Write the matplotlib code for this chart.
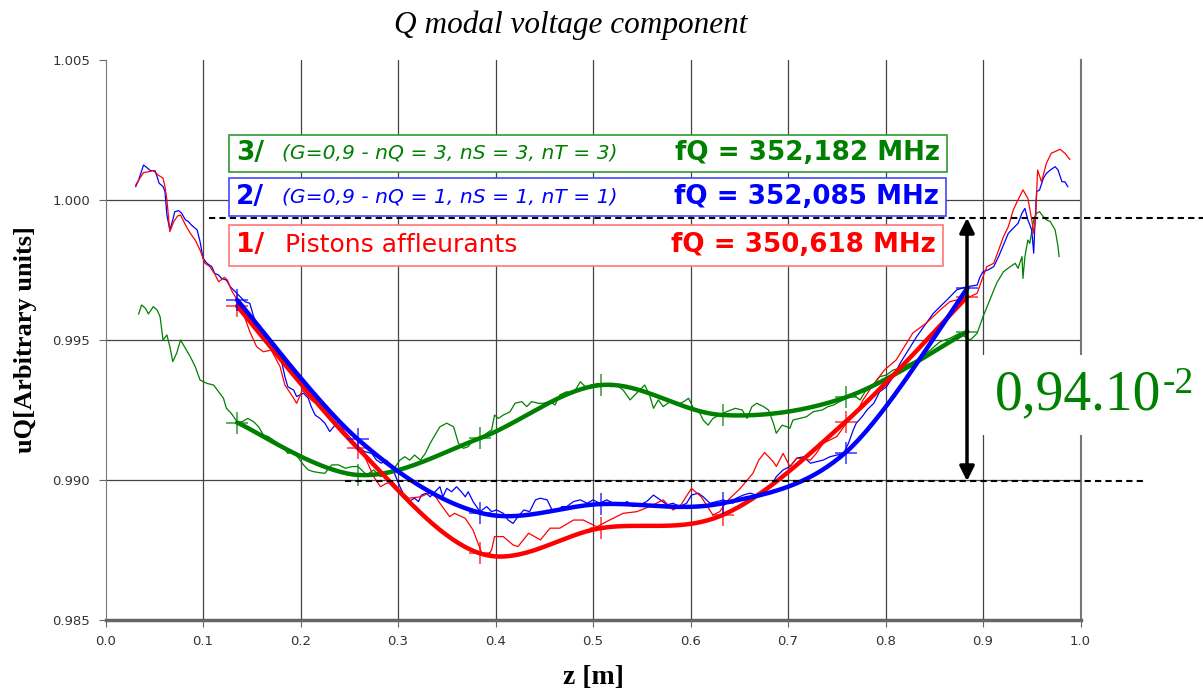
import numpy as np
import matplotlib
matplotlib.use("Agg")
import matplotlib.pyplot as plt
from matplotlib.patches import Rectangle

# measured uQ(z), one thin trace per configuration
red_meas = [
    (0.031, 1.00054), (0.039, 1.00098), (0.044, 1.00101), (0.049, 1.00105), (0.054, 1.00089),
    (0.059, 1.00078), (0.061, 1.00048), (0.063, 1.00000), (0.066, 0.99887), (0.070, 0.99923),
    (0.074, 0.99943), (0.077, 0.99946), (0.082, 0.99911), (0.087, 0.99881), (0.092, 0.99857),
    (0.097, 0.99821), (0.102, 0.99774), (0.107, 0.99762), (0.112, 0.99736), (0.116, 0.99708),
    (0.122, 0.99724), (0.125, 0.99714), (0.129, 0.99679), (0.135, 0.99643), (0.140, 0.99607),
    (0.148, 0.99530), (0.155, 0.99476), (0.162, 0.99458), (0.170, 0.99464), (0.179, 0.99405),
    (0.184, 0.99339), (0.193, 0.99292), (0.196, 0.99274), (0.202, 0.99321), (0.211, 0.99286),
    (0.220, 0.99262), (0.234, 0.99208), (0.247, 0.99167), (0.259, 0.99119), (0.266, 0.99083),
    (0.275, 0.99012), (0.282, 0.98976), (0.287, 0.98986), (0.294, 0.98996), (0.300, 0.98970),
    (0.311, 0.98935), (0.323, 0.98940), (0.335, 0.98958), (0.343, 0.98917), (0.353, 0.98869),
    (0.358, 0.98881), (0.369, 0.98863), (0.377, 0.98821), (0.386, 0.98738), (0.391, 0.98726),
    (0.396, 0.98750), (0.399, 0.98798), (0.408, 0.98798), (0.418, 0.98768), (0.423, 0.98762),
    (0.434, 0.98810), (0.446, 0.98786), (0.456, 0.98828), (0.466, 0.98828), (0.480, 0.98857),
    (0.490, 0.98857), (0.504, 0.98833), (0.517, 0.98857), (0.531, 0.98881), (0.545, 0.98887),
    (0.558, 0.98905), (0.572, 0.98929), (0.582, 0.98893), (0.589, 0.98905), (0.601, 0.98970),
    (0.611, 0.98940), (0.623, 0.98875), (0.630, 0.98887), (0.637, 0.98923), (0.651, 0.98970),
    (0.664, 0.99024), (0.670, 0.99071), (0.676, 0.99098), (0.685, 0.99065), (0.688, 0.99048),
    (0.695, 0.99095), (0.702, 0.99048), (0.709, 0.99078), (0.723, 0.99071), (0.729, 0.99095),
    (0.736, 0.99131), (0.750, 0.99155), (0.760, 0.99203), (0.770, 0.99238), (0.777, 0.99286),
    (0.787, 0.99339), (0.799, 0.99393), (0.811, 0.99429), (0.828, 0.99525), (0.842, 0.99561),
    (0.856, 0.99607), (0.866, 0.99637), (0.887, 0.99655), (0.894, 0.99667), (0.900, 0.99726),
    (0.904, 0.99762), (0.911, 0.99774), (0.916, 0.99821), (0.921, 0.99869), (0.926, 0.99905),
    (0.931, 0.99964), (0.935, 0.99994), (0.941, 1.00036), (0.946, 1.00006), (0.950, 0.99929),
    (0.952, 0.99881), (0.954, 0.99940), (0.956, 1.00107), (0.960, 1.00065), (0.965, 1.00131),
    (0.970, 1.00167), (0.979, 1.00181), (0.984, 1.00167), (0.989, 1.00145),
]

blue_meas = [
    (0.031, 1.00048), (0.034, 1.00071), (0.039, 1.00125), (0.042, 1.00117), (0.046, 1.00105),
    (0.051, 1.00104), (0.055, 1.00060), (0.059, 1.00048), (0.061, 1.00030), (0.063, 0.99946),
    (0.066, 0.99893), (0.069, 0.99929), (0.071, 0.99958), (0.075, 0.99962), (0.078, 0.99953),
    (0.082, 0.99929), (0.085, 0.99923), (0.088, 0.99911), (0.094, 0.99893), (0.097, 0.99851),
    (0.100, 0.99792), (0.104, 0.99774), (0.109, 0.99762), (0.112, 0.99738), (0.116, 0.99732),
    (0.119, 0.99720), (0.124, 0.99714), (0.128, 0.99690), (0.133, 0.99673), (0.138, 0.99655),
    (0.143, 0.99637), (0.148, 0.99631), (0.152, 0.99583), (0.158, 0.99536), (0.165, 0.99500),
    (0.172, 0.99482), (0.177, 0.99453), (0.181, 0.99417), (0.184, 0.99369), (0.187, 0.99333),
    (0.193, 0.99321), (0.196, 0.99298), (0.203, 0.99310), (0.208, 0.99292), (0.211, 0.99262),
    (0.215, 0.99232), (0.220, 0.99220), (0.225, 0.99203), (0.230, 0.99173), (0.234, 0.99190),
    (0.239, 0.99208), (0.244, 0.99179), (0.251, 0.99143), (0.256, 0.99125), (0.259, 0.99119),
    (0.266, 0.99101), (0.273, 0.99095), (0.278, 0.99071), (0.283, 0.99060), (0.288, 0.99071),
    (0.294, 0.99048), (0.297, 0.99018), (0.302, 0.98976), (0.307, 0.98940), (0.311, 0.98923),
    (0.314, 0.98929), (0.317, 0.98935), (0.321, 0.98923), (0.324, 0.98946), (0.329, 0.98953),
    (0.333, 0.98940), (0.338, 0.98958), (0.343, 0.98976), (0.346, 0.98940), (0.350, 0.98970),
    (0.355, 0.98958), (0.360, 0.98976), (0.365, 0.98958), (0.369, 0.98940), (0.372, 0.98958),
    (0.377, 0.98923), (0.384, 0.98887), (0.391, 0.98905), (0.396, 0.98887), (0.401, 0.98893),
    (0.408, 0.98881), (0.413, 0.98857), (0.418, 0.98845), (0.423, 0.98869), (0.429, 0.98893),
    (0.435, 0.98887), (0.441, 0.98929), (0.446, 0.98935), (0.453, 0.98929), (0.458, 0.98893),
    (0.463, 0.98887), (0.468, 0.98905), (0.473, 0.98905), (0.480, 0.98923), (0.487, 0.98929),
    (0.494, 0.98917), (0.500, 0.98929), (0.507, 0.98917), (0.514, 0.98929), (0.521, 0.98917),
    (0.528, 0.98911), (0.535, 0.98923), (0.541, 0.98905), (0.548, 0.98911), (0.555, 0.98923),
    (0.562, 0.98946), (0.569, 0.98929), (0.576, 0.98911), (0.582, 0.98917), (0.589, 0.98905),
    (0.596, 0.98917), (0.601, 0.98946), (0.608, 0.98953), (0.613, 0.98940), (0.620, 0.98917),
    (0.627, 0.98923), (0.634, 0.98929), (0.640, 0.98917), (0.647, 0.98935), (0.654, 0.98946),
    (0.661, 0.98953), (0.668, 0.98946), (0.675, 0.98964), (0.682, 0.98976), (0.688, 0.99012),
    (0.695, 0.99036), (0.702, 0.99048), (0.709, 0.99078), (0.716, 0.99083), (0.723, 0.99060),
    (0.729, 0.99065), (0.736, 0.99071), (0.743, 0.99083), (0.750, 0.99089), (0.757, 0.99095),
    (0.762, 0.99131), (0.767, 0.99179), (0.770, 0.99203), (0.776, 0.99226), (0.781, 0.99250),
    (0.788, 0.99274), (0.794, 0.99315), (0.801, 0.99333), (0.808, 0.99369), (0.815, 0.99417),
    (0.832, 0.99512), (0.849, 0.99595), (0.863, 0.99643), (0.873, 0.99679), (0.883, 0.99690),
    (0.894, 0.99696), (0.897, 0.99726), (0.900, 0.99744), (0.905, 0.99750), (0.911, 0.99762),
    (0.916, 0.99798), (0.921, 0.99839), (0.926, 0.99881), (0.931, 0.99899), (0.936, 0.99917),
    (0.940, 0.99953), (0.943, 0.99970), (0.946, 0.99929), (0.950, 0.99893), (0.952, 0.99810),
    (0.953, 0.99893), (0.955, 1.00030), (0.958, 1.00036), (0.962, 1.00078), (0.965, 1.00095),
    (0.969, 1.00107), (0.974, 1.00119), (0.977, 1.00107), (0.981, 1.00065), (0.984, 1.00065),
    (0.987, 1.00048),
]

green_meas = [
    (0.034, 0.99593), (0.037, 0.99625), (0.041, 0.99613), (0.044, 0.99593), (0.049, 0.99619),
    (0.053, 0.99607), (0.056, 0.99583), (0.059, 0.99500), (0.063, 0.99518), (0.066, 0.99476),
    (0.069, 0.99423), (0.073, 0.99453), (0.077, 0.99500), (0.082, 0.99470), (0.087, 0.99440),
    (0.092, 0.99405), (0.097, 0.99357), (0.104, 0.99345), (0.111, 0.99339), (0.116, 0.99315),
    (0.121, 0.99292), (0.124, 0.99256), (0.129, 0.99238), (0.135, 0.99208), (0.140, 0.99208),
    (0.146, 0.99220), (0.152, 0.99208), (0.157, 0.99190), (0.162, 0.99161), (0.167, 0.99155),
    (0.172, 0.99143), (0.177, 0.99131), (0.182, 0.99119), (0.187, 0.99095), (0.193, 0.99101),
    (0.198, 0.99078), (0.203, 0.99054), (0.208, 0.99036), (0.213, 0.99030), (0.220, 0.99026),
    (0.225, 0.99024), (0.232, 0.99054), (0.239, 0.99054), (0.246, 0.99042), (0.253, 0.99048),
    (0.259, 0.99048), (0.268, 0.99018), (0.275, 0.99036), (0.282, 0.99012), (0.288, 0.99018),
    (0.295, 0.99036), (0.302, 0.99071), (0.307, 0.99083), (0.312, 0.99071), (0.317, 0.99089),
    (0.323, 0.99071), (0.328, 0.99095), (0.333, 0.99131), (0.338, 0.99161), (0.343, 0.99190),
    (0.350, 0.99203), (0.357, 0.99190), (0.362, 0.99131), (0.367, 0.99113), (0.372, 0.99119),
    (0.377, 0.99143), (0.384, 0.99149), (0.391, 0.99167), (0.396, 0.99179), (0.399, 0.99232),
    (0.403, 0.99220), (0.408, 0.99232), (0.415, 0.99244), (0.420, 0.99274), (0.427, 0.99280),
    (0.432, 0.99262), (0.437, 0.99280), (0.444, 0.99274), (0.449, 0.99274), (0.456, 0.99280),
    (0.461, 0.99268), (0.466, 0.99304), (0.473, 0.99315), (0.480, 0.99310), (0.487, 0.99351),
    (0.494, 0.99327), (0.500, 0.99339), (0.505, 0.99345), (0.512, 0.99339), (0.519, 0.99333),
    (0.524, 0.99339), (0.531, 0.99321), (0.538, 0.99286), (0.543, 0.99304), (0.548, 0.99321),
    (0.553, 0.99339), (0.558, 0.99304), (0.562, 0.99256), (0.567, 0.99286), (0.572, 0.99262),
    (0.579, 0.99280), (0.586, 0.99268), (0.593, 0.99280), (0.598, 0.99292), (0.603, 0.99256),
    (0.608, 0.99250), (0.613, 0.99214), (0.618, 0.99196), (0.623, 0.99220), (0.630, 0.99232),
    (0.637, 0.99244), (0.646, 0.99256), (0.653, 0.99250), (0.658, 0.99220), (0.663, 0.99262),
    (0.668, 0.99274), (0.675, 0.99262), (0.680, 0.99250), (0.685, 0.99203), (0.688, 0.99167),
    (0.694, 0.99196), (0.699, 0.99190), (0.702, 0.99185), (0.705, 0.99214), (0.712, 0.99220),
    (0.719, 0.99226), (0.726, 0.99244), (0.735, 0.99250), (0.741, 0.99262), (0.747, 0.99268),
    (0.753, 0.99280), (0.760, 0.99292), (0.767, 0.99304), (0.774, 0.99286), (0.779, 0.99315),
    (0.784, 0.99327), (0.789, 0.99345), (0.794, 0.99369), (0.801, 0.99375), (0.808, 0.99393),
    (0.815, 0.99399), (0.832, 0.99429), (0.846, 0.99464), (0.856, 0.99494), (0.866, 0.99506),
    (0.876, 0.99524), (0.887, 0.99500), (0.894, 0.99524), (0.900, 0.99583), (0.907, 0.99643),
    (0.914, 0.99703), (0.921, 0.99744), (0.928, 0.99762), (0.933, 0.99774), (0.936, 0.99756),
    (0.940, 0.99798), (0.941, 0.99720), (0.943, 0.99798), (0.946, 0.99857), (0.948, 0.99845),
    (0.952, 0.99929), (0.955, 0.99953), (0.958, 0.99958), (0.962, 0.99940), (0.965, 0.99929),
    (0.969, 0.99923), (0.974, 0.99893), (0.977, 0.99833), (0.978, 0.99798),
]

# fitted points (drawn with "+" markers and a smoothed curve)
fit_z = [0.135, 0.259, 0.384, 0.508, 0.633, 0.759, 0.884]
red_fit = [0.99621, 0.99113, 0.98738, 0.98828, 0.98875, 0.99208, 0.99655]
blue_fit = [0.99643, 0.99145, 0.98883, 0.98914, 0.98917, 0.99098, 0.99685]
green_fit = [0.99205, 0.99018, 0.99149, 0.99339, 0.99232, 0.99295, 0.99530]

lower_level = 0.98996
upper_level = 0.99936

RED, BLUE, GREEN = '#FF0000', '#0000FF', '#008000'


def smooth(xs, ys, n=40):
    """Bezier smoothing through the points (spreadsheet style)."""
    p = np.column_stack([xs, ys])
    t = np.linspace(0, 1, n)[:, None]
    out = []
    for i in range(len(p) - 1):
        p0 = p[max(i - 1, 0)]
        p1 = p[i]
        p2 = p[i + 1]
        p3 = p[min(i + 2, len(p) - 1)]
        c1 = p1 + (p2 - p0) / 6
        c2 = p2 - (p3 - p1) / 6
        seg = (1 - t) ** 3 * p1 + 3 * (1 - t) ** 2 * t * c1 + 3 * (1 - t) * t ** 2 * c2 + t ** 3 * p2
        out.append(seg)
    out = np.vstack(out)
    return out[:, 0], out[:, 1]


fig = plt.figure(figsize=(12.03, 7.0), dpi=100)
ax = fig.add_axes([105.5 / 1203, 80 / 700, 975 / 1203, 560 / 700])
ax.set_xlim(0, 1.0)
ax.set_ylim(0.985, 1.005)

xt = np.round(np.arange(0, 1.01, 0.1), 1)
ax.set_xticks(xt)
ax.set_xticklabels([f'{v:.1f}' for v in xt])
yt = [0.985, 0.990, 0.995, 1.000, 1.005]
ax.set_yticks(yt)
ax.set_yticklabels([f'{v:.3f}' for v in yt])
ax.tick_params(direction='out', length=5, color='#666666', labelsize=9.5,
               labelcolor='#333333', pad=6)

for v in xt[1:-1]:
    ax.axvline(v, color='#444444', lw=0.9, zorder=1)
for v in [0.990, 0.995, 1.000]:
    ax.axhline(v, color='#444444', lw=0.9, zorder=1)

ax.spines['top'].set_visible(False)
ax.spines['right'].set_color('#777777')
ax.spines['right'].set_linewidth(1.5)
ax.spines['left'].set_color('#777777')
ax.spines['bottom'].set_color('#666666')
ax.spines['bottom'].set_linewidth(2.5)

# measured traces
for data, col in [(green_meas, GREEN), (blue_meas, BLUE), (red_meas, RED)]:
    arr = np.array(data)
    ax.plot(arr[:, 0], arr[:, 1], color=col, lw=0.9, zorder=3)

# smoothed fits with markers
for ys, col in [(green_fit, GREEN), (red_fit, RED), (blue_fit, BLUE)]:
    sx, sy = smooth(fit_z, ys)
    ax.plot(sx, sy, color=col, lw=3.2, zorder=4, solid_capstyle='round')
    ax.plot(fit_z, ys, ls='none', marker='+', ms=16, mew=1.1, color=col, alpha=0.8, zorder=4)

# reference levels and amplitude arrow
ax.plot([0.106, 1.126], [upper_level, upper_level], color='black', lw=1.5,
        dashes=(3, 2), clip_on=False, zorder=6)
ax.plot([0.2456, 1.066], [lower_level, lower_level], color='black', lw=1.5,
        dashes=(3, 2), clip_on=False, zorder=6)
ax.annotate('', xy=(0.8836, upper_level), xytext=(0.8836, lower_level),
            arrowprops=dict(arrowstyle='<|-|>', lw=2.5, color='black',
                            mutation_scale=22, shrinkA=0, shrinkB=0), zorder=7)
amp = ax.text(0.912, 0.99304, '0,94.10', color=GREEN, fontsize=40,
              family='Liberation Serif', ha='left', va='center', zorder=7,
              bbox=dict(boxstyle='square,pad=0.25', fc='white', ec='none'))
ax.annotate('-2', xy=(1.0, 1.0), xycoords=amp, xytext=(1, 2), textcoords='offset points',
            color=GREEN, fontsize=27, family='Liberation Serif', ha='left', va='top',
            zorder=7, bbox=dict(boxstyle='square,pad=0.1', fc='white', ec='none'))

# legend boxes
rows = [
    (0.8661, 0.8000, 0.8631, '#2E9A2E', GREEN, '3/', '(G=0,9 - nQ = 3, nS = 3, nT = 3)', 'fQ = 352,182 MHz'),
    (0.7893, 0.7214, 0.8621, '#4444FF', BLUE, '2/', '(G=0,9 - nQ = 1, nS = 1, nT = 1)', 'fQ = 352,085 MHz'),
    (0.7054, 0.6321, 0.8590, '#FF7777', RED, '1/', 'Pistons affleurants', 'fQ = 350,618 MHz'),
]
for top, bot, right, ec, col, num, desc, freq in rows:
    ax.add_patch(Rectangle((0.1267, bot), right - 0.1267, top - bot, transform=ax.transAxes,
                           fc='white', ec=ec, lw=1.2, zorder=8))
    yc = (top + bot) / 2
    ax.text(0.1338, yc, num, transform=ax.transAxes, color=col, fontsize=19,
            fontweight='bold', ha='left', va='center', zorder=9)
    if num == '1/':
        ax.text(0.1841, yc, desc, transform=ax.transAxes, color=col, fontsize=18,
                ha='left', va='center', zorder=9)
    else:
        ax.text(0.1810, yc, desc, transform=ax.transAxes, color=col, fontsize=14.6,
                style='italic', ha='left', va='center', zorder=9)
    ax.text(right - 0.007, yc, freq, transform=ax.transAxes, color=col, fontsize=18.8,
            fontweight='bold', ha='right', va='center', zorder=9)

fig.text(571 / 1203, 1 - 25 / 700, 'Q modal voltage component', family='Liberation Serif',
         style='italic', fontsize=22.5, ha='center', va='center')
ax.set_xlabel('z [m]', family='Liberation Serif', fontweight='bold', fontsize=20, labelpad=12)
ax.set_ylabel('uQ[Arbitrary units]', family='Liberation Serif', fontweight='bold',
              fontsize=19, labelpad=11)

fig.savefig('out.png', dpi=100)
